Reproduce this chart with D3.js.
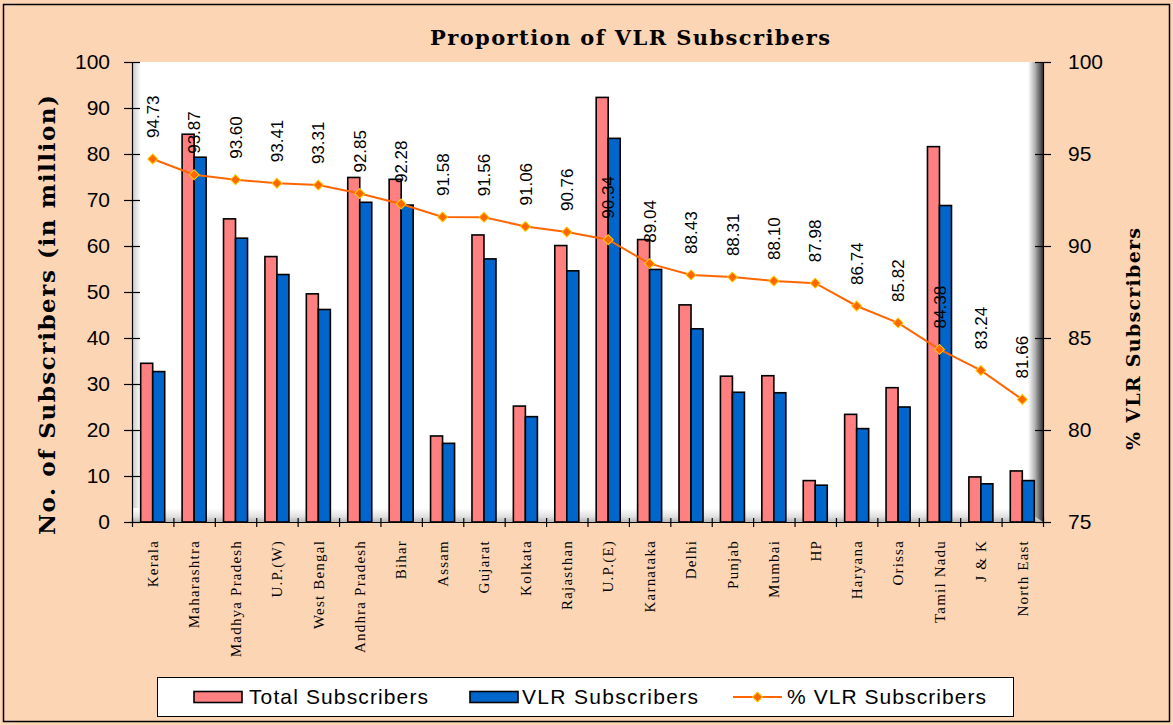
<!DOCTYPE html>
<html>
<head>
<meta charset="utf-8">
<script src="https://cdn.jsdelivr.net/npm/d3@7"></script>
<style>
  body { margin: 0; background: #fcd5b5; }
  svg { display: block; }
  .axis path, .axis line { stroke: #000; stroke-width: 1.2; }
  .axis text { font-family: "Liberation Sans", Arial, sans-serif; font-size: 21px; fill: #000; }
</style>
</head>
<body>
<script>
const states = ['Kerala', 'Maharashtra', 'Madhya Pradesh', 'U.P.(W)', 'West Bengal', 'Andhra Pradesh',
  'Bihar', 'Assam', 'Gujarat', 'Kolkata', 'Rajasthan', 'U.P.(E)', 'Karnataka', 'Delhi', 'Punjab',
  'Mumbai', 'HP', 'Haryana', 'Orissa', 'Tamil Nadu', 'J & K', 'North East'];
const totalSubs = [34.5, 84.3, 65.9, 57.7, 49.6, 74.9, 74.5, 18.7, 62.4, 25.2, 60.1, 92.3,
  61.4, 47.2, 31.7, 31.8, 9.0, 23.4, 29.2, 81.6, 9.8, 11.1];
const vlrSubs = [32.7, 79.3, 61.7, 53.8, 46.2, 69.5, 68.9, 17.1, 57.2, 22.9, 54.6, 83.4,
  54.9, 42.0, 28.2, 28.1, 8.0, 20.3, 25.0, 68.8, 8.3, 9.0];
const vlrPct = [94.73, 93.87, 93.60, 93.41, 93.31, 92.85, 92.28, 91.58, 91.56, 91.06, 90.76, 90.34,
  89.04, 88.43, 88.31, 88.10, 87.98, 86.74, 85.82, 84.38, 83.24, 81.66];
const leftTicks = [0, 10, 20, 30, 40, 50, 60, 70, 80, 90, 100];
const rightTicks = [75, 80, 85, 90, 95, 100];

const outerWidth = 1173;
const outerHeight = 725;
const margin = { top: 62, right: 130, bottom: 203, left: 132 };
const innerWidth = outerWidth - margin.left - margin.right;
const innerHeight = outerHeight - margin.top - margin.bottom;

const data = states.map((s, i) => ({ state: s, total: totalSubs[i], vlr: vlrSubs[i], pct: vlrPct[i] }));

const svg = d3.select('body').append('svg')
    .attr('width', outerWidth)
    .attr('height', outerHeight);

const defs = svg.append('defs');
function gradient(id, x2, y2, stops) {
  const g = defs.append('linearGradient').attr('id', id)
      .attr('x1', 0).attr('y1', 0).attr('x2', x2).attr('y2', y2);
  stops.forEach(s => g.append('stop').attr('offset', s[0]).attr('stop-color', s[1]));
}
gradient('floor', 0, 1, [[0, '#ffffff'], [0.6, '#e2e2e2'], [1, '#b8b8b8']]);
gradient('leftWall', 1, 0, [[0, '#c8c8c8'], [1, '#ffffff']]);
gradient('rightWall', 1, 0, [[0, '#ffffff'], [0.45, '#b5b5b5'], [1, '#333333']]);

// background + border
svg.append('rect')
    .attr('x', 3.5).attr('y', 4.5)
    .attr('width', 1166).attr('height', 717)
    .attr('fill', '#fcd5b5')
    .attr('stroke', '#000').attr('stroke-width', 1.5);

const g = svg.append('g')
    .attr('transform', `translate(${margin.left},${margin.top})`);

// plot area with the 3D walls
g.append('rect').attr('width', innerWidth).attr('height', innerHeight).attr('fill', '#fff');
g.append('rect').attr('x', 0).attr('width', 9).attr('height', innerHeight).attr('fill', 'url(#leftWall)');
g.append('rect').attr('x', 0).attr('y', innerHeight - 14).attr('width', innerWidth).attr('height', 14).attr('fill', 'url(#floor)');
g.append('path')
    .attr('d', `M${innerWidth - 15},0 L${innerWidth},0 L${innerWidth},${innerHeight} L${innerWidth - 15},${innerHeight - 10} L${innerWidth - 15},12 Z`)
    .attr('fill', 'url(#rightWall)');

// scales
const xScale = d3.scaleBand()
    .domain(states)
    .range([0, innerWidth])
    .paddingInner(0.42)
    .paddingOuter(0.21);
const xSub = d3.scaleBand()
    .domain(['total', 'vlr'])
    .range([0, xScale.bandwidth()]);
const xEdge = d3.scaleLinear()
    .domain([0, states.length])
    .range([0, innerWidth]);
const yLeft = d3.scaleLinear().domain([0, 100]).range([innerHeight, 0]);
const yRight = d3.scaleLinear().domain([75, 100]).range([innerHeight, 0]);
const colors = { total: '#ff8080', vlr: '#0066cc' };

// bars
const groups = g.selectAll('.group')
    .data(data)
    .enter()
  .append('g')
    .attr('class', 'group')
    .attr('transform', d => `translate(${xScale(d.state)},0)`);
groups.selectAll('rect')
    .data(d => [{ key: 'total', v: d.total }, { key: 'vlr', v: d.vlr }])
    .enter()
  .append('rect')
    .attr('x', d => xSub(d.key))
    .attr('y', d => yLeft(d.v))
    .attr('width', xSub.bandwidth())
    .attr('height', d => innerHeight - yLeft(d.v))
    .attr('fill', d => colors[d.key])
    .attr('stroke', '#000')
    .attr('stroke-width', 1.6);

// axes
const leftAxis = g.append('g')
    .attr('class', 'axis')
    .call(d3.axisLeft(yLeft).tickValues(leftTicks).tickSize(8).tickPadding(14).tickSizeOuter(0));
leftAxis.selectAll('.tick line').attr('x1', 8);

const rightAxis = g.append('g')
    .attr('class', 'axis')
    .attr('transform', `translate(${innerWidth},0)`)
    .call(d3.axisRight(yRight).tickValues(rightTicks).tickSize(8).tickPadding(17).tickSizeOuter(0));
rightAxis.selectAll('.tick line').attr('x1', -8);
rightAxis.select('.domain').attr('stroke-width', 2.5);

const bottomAxis = g.append('g')
    .attr('class', 'axis')
    .attr('transform', `translate(0,${innerHeight})`)
    .call(d3.axisBottom(xEdge).tickValues(d3.range(states.length + 1)).tickFormat('').tickSize(5).tickSizeOuter(0));
bottomAxis.selectAll('.tick line').attr('y1', -4);

// category labels
g.selectAll('.cat-label')
    .data(states)
    .enter()
  .append('text')
    .attr('class', 'cat-label')
    .attr('transform', d => `translate(${xScale(d) + xScale.bandwidth() / 2},${innerHeight + 18}) rotate(-90)`)
    .attr('dy', '0.35em')
    .attr('text-anchor', 'end')
    .style('font-family', '"Liberation Serif", serif')
    .style('font-size', '15px')
    .style('letter-spacing', '1.2px')
    .text(d => d);

// % line
const cx = d => xScale(d.state) + xScale.bandwidth() / 2;
g.append('path')
    .datum(data)
    .attr('fill', 'none')
    .attr('stroke', '#ff6600')
    .attr('stroke-width', 2)
    .attr('d', d3.line().x(cx).y(d => yRight(d.pct)));
g.selectAll('.marker')
    .data(data)
    .enter()
  .append('path')
    .attr('class', 'marker')
    .attr('d', d3.symbol(d3.symbolSquare, 50))
    .attr('transform', d => `translate(${cx(d)},${yRight(d.pct)}) rotate(45)`)
    .attr('fill', '#ff6600')
    .attr('stroke', '#ffcc00')
    .attr('stroke-width', 1);
g.selectAll('.pct-label')
    .data(data)
    .enter()
  .append('text')
    .attr('class', 'pct-label')
    .attr('transform', d => `translate(${cx(d)},${yRight(d.pct) - 21}) rotate(-90)`)
    .attr('dy', '0.36em')
    .style('font-family', '"Liberation Sans", Arial, sans-serif')
    .style('font-size', '17px')
    .text(d => d.pct.toFixed(2));

// titles
svg.append('text')
    .attr('x', 630).attr('y', 45)
    .attr('text-anchor', 'middle')
    .attr('textLength', 400)
    .style('font-family', '"DejaVu Serif", serif')
    .style('font-weight', 'bold')
    .style('font-size', '21px')
    .text('Proportion of VLR Subscribers');
svg.append('text')
    .attr('transform', 'translate(55,315) rotate(-90)')
    .attr('text-anchor', 'middle')
    .attr('textLength', 440)
    .style('font-family', '"DejaVu Serif", serif')
    .style('font-weight', 'bold')
    .style('font-size', '23px')
    .text('No. of Subscribers (in million)');
svg.append('text')
    .attr('transform', 'translate(1140,339) rotate(-90)')
    .attr('text-anchor', 'middle')
    .attr('textLength', 222)
    .style('font-family', '"DejaVu Serif", serif')
    .style('font-weight', 'bold')
    .style('font-size', '19px')
    .text('% VLR Subscribers');

// legend
const legend = svg.append('g');
legend.append('rect')
    .attr('x', 157.5).attr('y', 677.5)
    .attr('width', 856).attr('height', 39)
    .attr('fill', '#fff').attr('stroke', '#000').attr('stroke-width', 1);
const legendItems = [
  { label: 'Total Subscribers', key: 'total', x: 194, tx: 249, w: 179 },
  { label: 'VLR Subscribers', key: 'vlr', x: 470, tx: 522, w: 176 },
  { label: '% VLR Subscribers', key: 'pct', x: 733, tx: 787, w: 199 }
];
legendItems.forEach(it => {
  if (it.key === 'pct') {
    legend.append('line')
        .attr('x1', it.x).attr('x2', it.x + 49).attr('y1', 697).attr('y2', 697)
        .attr('stroke', '#ff6600').attr('stroke-width', 2);
    legend.append('path')
        .attr('d', d3.symbol(d3.symbolSquare, 50))
        .attr('transform', `translate(${it.x + 24.5},697) rotate(45)`)
        .attr('fill', '#ff6600').attr('stroke', '#ffcc00');
  } else {
    legend.append('rect')
        .attr('x', it.x).attr('y', 691.5)
        .attr('width', 48).attr('height', 11)
        .attr('fill', colors[it.key]).attr('stroke', '#000').attr('stroke-width', 1.6);
  }
  legend.append('text')
      .attr('x', it.tx).attr('y', 704)
      .attr('textLength', it.w)
      .style('font-family', '"Liberation Sans", Arial, sans-serif')
      .style('font-size', '21px')
      .text(it.label);
});
</script>
</body>
</html>
